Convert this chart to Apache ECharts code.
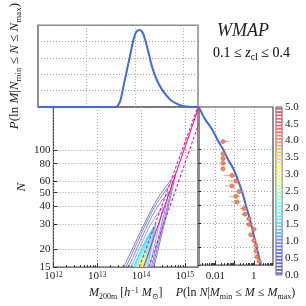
<!DOCTYPE html>
<html><head><meta charset="utf-8">
<script src="https://cdn.jsdelivr.net/npm/echarts@6/dist/echarts.min.js"></script>
<style>html,body{margin:0;padding:0;background:#fff}#c{width:306px;height:306px}</style>
</head><body><div id="c"></div>
<script>
// ---------- data ----------
// top panel: P(ln M | Nmin<=N<=Nmax) vs log10 M
const topLogM = [12.0, 13.5, 13.61, 13.65, 13.70, 13.765, 13.83, 13.896, 13.96, 14.02, 14.09, 14.157, 14.22, 14.29, 14.353, 14.45, 14.55, 14.65, 14.745, 14.88, 15.0, 15.3];
const topP    = [0, 0, 0, 0.02, 0.08, 0.26, 0.44, 0.62, 0.80, 0.91, 0.94, 0.91, 0.80, 0.64, 0.49, 0.33, 0.22, 0.14, 0.08, 0.035, 0.01, 0];
// axis ticks
const mTicks = [12, 13, 14, 15];
const nTicks = [15, 20, 30, 40, 50, 60, 80, 100];
const pTicks = [0.01, 1];
const cbarTicks = [0, 0.5, 1, 1.5, 2, 2.5, 3, 3.5, 4, 4.5, 5];
// contours of the joint distribution (log10 M, N)
const contourLevels = [0.1, 0.3, 0.6, 1.0, 1.5, 1.8, 2.1, 2.5, 2.9, 3.3];
const contourLogM = [
 [13.608,14.108,14.392,14.784,14.672,14.294],
 [13.657,14.110,14.369,14.725,14.620,14.265],
 [13.716,14.102,14.322,14.631,14.541,14.235],
 [13.775,14.078,14.252,14.496,14.427,14.196],
 [13.824,14.042,14.169,14.343,14.301,14.157],
 [13.853,14.024,14.122,14.259,14.231,14.137],
 [13.882,14.009,14.082,14.182,14.169,14.118],
 [13.902,13.991,14.043,14.114,14.112,14.098],
 [13.922,13.978,14.010,14.055,14.062,14.078],
 [13.941,13.969,13.982,14.004,14.016,14.049]];
const contourN = [
 [15,31.7,46.2,67.2,46.2,15],
 [15,30.1,42.6,60.3,42.6,15],
 [15,27.6,37.5,50.8,37.5,15],
 [15,24.4,31.1,39.7,31.1,15],
 [15,21.2,25.3,30.1,25.3,15],
 [15,19.7,22.5,25.8,22.5,15],
 [15,18.3,20.3,22.4,20.3,15],
 [15,17.2,18.5,19.8,18.5,15],
 [15,16.3,17.0,17.8,17.0,15],
 [15,15.6,15.9,16.2,15.9,15]];
// mass-richness relation and its scatter
const relLogM = [14.059, 15.318], relN = [15, 200];
const relLoLogM = [13.961, 15.275], relLoN = [15, 192];
const relHiLogM = [14.176, 15.392], relHiN = [15, 178];
// right panel: P(ln N | Mmin<=M<=Mmax)
const curveP = [0.00142, 0.00291, 0.00673, 0.0138, 0.0251, 0.0457, 0.0832, 0.151, 0.244, 0.394, 0.637, 1.159, 1.66, 2.377];
const curveN = [198, 164, 139, 115, 100, 84.7, 73.6, 60.3, 50.0, 39.7, 31.5, 22.4, 18.3, 15.0];
// measured points with horizontal errors
const ptN  = [113.6, 92.9, 86.0, 79.6, 72.6, 65.2, 59.3, 54.9, 50.0, 46.3, 42.2, 37.9, 34.5, 32.0, 29.2, 27.0, 24.6, 22.4, 20.7, 18.9, 17.2, 16.0];
const ptP  = [0.0251, 0.0251, 0.0251, 0.0251, 0.0251, 0.0738, 0.119, 0.0738, 0.1706, 0.119, 0.134, 0.3105, 0.35, 0.5649, 0.5649, 1.028, 0.7178, 1.028, 1.306, 1.306, 1.472, 1.871];
const ptLo = [null, null, null, null, null, 0.0283, 0.0515, 0.0319, 0.0738, 0.0515, 0.0655, 0.1923, 0.2168, 0.3945, 0.3945, 0.7178, 0.5012, 0.762, 1.028, 1.028, 1.159, 1.472];
const ptHi = [0.0515, null, null, null, null, 0.1057, 0.1923, 0.1057, 0.2754, 0.1923, 0.2168, 0.4446, 0.5012, 0.762, 0.762, 1.306, 0.968, 1.306, 1.66, 1.66, 1.871, 2.377];

// ---------- helpers ----------
const FONT = "'Liberation Serif','DejaVu Serif',serif";
const L = Math.log10;
function jet(t, a) {
  const c = x => Math.max(0, Math.min(1, x));
  const r = c(1.5 - Math.abs(4*t - 3)), g = c(1.5 - Math.abs(4*t - 2)), b = c(1.5 - Math.abs(4*t - 1));
  const m = v => Math.round(255*(1 - a) + 255*v*a);
  return 'rgb(' + m(r) + ',' + m(g) + ',' + m(b) + ')';
}
function makeRich(size) {
  const sub = Math.round(size*0.68);
  return {
    i: {fontFamily: FONT, fontStyle: 'italic', fontSize: size, color: '#222', lineHeight: size + 2, verticalAlign: 'top', padding: [0,0,2,0]},
    r: {fontFamily: FONT, fontSize: size, color: '#222', lineHeight: size + 2, verticalAlign: 'top', padding: [0,0,2,0]},
    s: {fontFamily: FONT, fontSize: sub, color: '#222', lineHeight: sub + 1, verticalAlign: 'bottom'},
    p: {fontFamily: FONT, fontSize: sub, color: '#222', lineHeight: sub, verticalAlign: 'top'}
  };
}
const minorM = []; for (let n = 12; n < 15; n++) for (let k = 2; k < 10; k++) minorM.push(n + L(k));
const minorP = []; for (let n = -3; n < 1; n++) for (let k = 2; k < 10; k++) { const v = n + L(k); if (v > -2.9 && v < 1) minorP.push(v); }
const cbarLevels = []; for (let i = 0; i < 50; i++) cbarLevels.push(0.05 + 0.1*i);

const gridLine = {show: true, lineStyle: {type: [1, 2], color: '#9a9a9a', width: 0.9}};
const tickStyle = {color: '#333', width: 1};
const lblStyle = {fontFamily: FONT, fontSize: 11, color: '#222'};

const series = [];
// top curve
series.push({type: 'line', xAxisIndex: 0, yAxisIndex: 0, data: topLogM.map((m, i) => [m, topP[i]]),
  smooth: 0.3, symbol: 'none', clip: false, lineStyle: {color: '#4169e1', width: 2}, z: 5});
// contours
contourLevels.forEach((lv, k) => {
  const s = {type: 'line', xAxisIndex: 1, yAxisIndex: 1, smooth: 0.35, symbol: 'none', z: 2 + k*0.01,
    data: contourLogM[k].map((m, i) => [m, L(contourN[k][i])]),
    lineStyle: {color: jet(lv/5, 0.55), width: 0.9}};
  if (lv >= 1.5) s.areaStyle = {origin: 'start', color: jet(lv/5, 0.65), opacity: 1};
  series.push(s);
});
// relation lines
series.push({type: 'line', xAxisIndex: 1, yAxisIndex: 1, symbol: 'none', z: 4,
  data: relLogM.map((m, i) => [m, L(relN[i])]), lineStyle: {color: '#ff1493', width: 1.1}});
series.push({type: 'line', xAxisIndex: 1, yAxisIndex: 1, symbol: 'none', z: 4,
  data: relLoLogM.map((m, i) => [m, L(relLoN[i])]), lineStyle: {color: '#ff1493', width: 1.1, type: [3, 2]}});
series.push({type: 'line', xAxisIndex: 1, yAxisIndex: 1, symbol: 'none', z: 4,
  data: relHiLogM.map((m, i) => [m, L(relHiN[i])]), lineStyle: {color: '#ff1493', width: 1.1, type: [3, 2]}});
// right curve
series.push({type: 'line', xAxisIndex: 3, yAxisIndex: 2, symbol: 'none', smooth: 0.3, z: 5,
  data: curveP.map((p, i) => [L(p), L(curveN[i])]), lineStyle: {color: '#4169e1', width: 2}});
// error bars
const errData = [];
ptN.forEach((n, i) => { if (ptLo[i] == null && ptHi[i] == null) return;
  errData.push([L(ptLo[i] == null ? ptP[i] : ptLo[i]), L(ptHi[i] == null ? ptP[i] : ptHi[i]), L(n)]); });
series.push({type: 'custom', xAxisIndex: 3, yAxisIndex: 2, z: 6, encode: {x: [0, 1], y: 2}, data: errData,
  renderItem: (params, api) => {
    const a = api.coord([api.value(0), api.value(2)]), b = api.coord([api.value(1), api.value(2)]);
    return {type: 'line', shape: {x1: a[0], y1: a[1], x2: b[0], y2: b[1]}, style: {stroke: '#f6a78e', lineWidth: 1}};
  }});
// points
series.push({type: 'scatter', xAxisIndex: 3, yAxisIndex: 2, z: 7, symbolSize: 4,
  data: ptP.map((p, i) => [L(p), L(ptN[i])]),
  itemStyle: {color: '#f08a64', borderColor: '#d5603a', borderWidth: 0.7, opacity: 1}});
// colorbar
series.push({type: 'scatter', xAxisIndex: 5, yAxisIndex: 3, symbol: 'rect', symbolSize: [6, 1.8], z: 3,
  data: cbarLevels.map(v => [0.5, v]),
  itemStyle: {color: p => jet(p.value[1]/5, 0.6), opacity: 1}});

const nT = nTicks.map(L);
const option = {
  animation: false,
  backgroundColor: '#fff',
  grid: [
    {left: 30, top: 15, width: 168, height: 92, show: true, borderColor: '#8a8a8a', borderWidth: 1.5},
    {left: 30, top: 107, width: 168, height: 168, show: true, borderColor: '#444', borderWidth: 1.2},
    {left: 198, top: 107, width: 75, height: 168, show: true, borderColor: '#444', borderWidth: 1.2},
    {left: 276, top: 107, width: 6, height: 168, show: true, borderColor: '#666', borderWidth: 1}
  ],
  xAxis: [
    {gridIndex: 0, type: 'value', min: 12, max: 15.3, interval: 1, axisLine: {show: false},
      axisTick: {show: false}, axisLabel: {show: false}, splitLine: gridLine},
    {gridIndex: 1, type: 'value', min: 12, max: 15.3, interval: 1, axisLine: {show: false},
      axisTick: {inside: true, length: 4, lineStyle: tickStyle},
      axisLabel: {margin: 4, formatter: v => '{a|10}{b|' + v + '}',
        rich: {a: {fontFamily: FONT, fontSize: 11, color: '#222', lineHeight: 13, verticalAlign: 'top'},
               b: {fontFamily: FONT, fontSize: 7.5, color: '#222', lineHeight: 8, verticalAlign: 'top'}}},
      splitLine: gridLine,
      name: '{i|M}{s|200m}{r| [}{i|h}{p|−1}{r| }{i|M}{s|⊙}{r|]}', nameLocation: 'middle', nameGap: 15,
      nameTextStyle: {rich: makeRich(12)}},
    {gridIndex: 1, type: 'value', min: 12, max: 15.3, position: 'bottom', axisLine: {show: false},
      axisLabel: {show: false}, splitLine: {show: false},
      axisTick: {inside: true, length: 2, customValues: minorM, lineStyle: tickStyle}},
    {gridIndex: 2, type: 'value', min: -2.9, max: 1, axisLine: {show: false},
      axisTick: {inside: true, length: 4, customValues: [-2, -1, 0], lineStyle: tickStyle},
      axisLabel: Object.assign({margin: 6, customValues: pTicks.map(L), formatter: v => String(Number(Math.pow(10, v).toPrecision(1)))}, lblStyle),
      splitLine: gridLine,
      name: '{i|P}{r|(ln }{i|N}{r||}{i|M}{s|min}{r| ≤ }{i|M}{r| ≤ }{i|M}{s|max}{r|)}', nameLocation: 'middle', nameGap: 10,
      nameTextStyle: {rich: makeRich(12)}},
    {gridIndex: 2, type: 'value', min: -2.9, max: 1, position: 'bottom', axisLine: {show: false},
      axisLabel: {show: false}, splitLine: {show: false},
      axisTick: {inside: true, length: 2, customValues: minorP, lineStyle: tickStyle}},
    {gridIndex: 3, type: 'value', min: 0, max: 1, show: false}
  ],
  yAxis: [
    {gridIndex: 0, type: 'value', min: 0, max: 1, interval: 0.2, axisLine: {show: true, onZero: false, lineStyle: {color: '#8a8a8a', width: 1.5}},
      axisTick: {show: false}, axisLabel: {show: false}, splitLine: gridLine,
      name: '{i|P}{r|(ln }{i|M}{r||}{i|N}{s|min}{r| ≤ }{i|N}{r| ≤ }{i|N}{s|max}{r|)}', nameLocation: 'middle', nameRotate: 90, nameGap: 15,
      nameTextStyle: {rich: makeRich(13)}},
    {gridIndex: 1, type: 'value', min: L(15), max: L(200), axisLine: {show: false},
      axisTick: {inside: true, length: 4, customValues: nT, lineStyle: tickStyle},
      axisLabel: Object.assign({margin: 3, customValues: nT, formatter: v => String(Math.round(Math.pow(10, v)))}, lblStyle),
      splitLine: gridLine,
      name: '{i|N}', nameLocation: 'middle', nameRotate: 90, nameGap: 16, nameTextStyle: {rich: makeRich(13)}},
    {gridIndex: 2, type: 'value', min: L(15), max: L(200),
      axisLine: {show: true, onZero: false, lineStyle: {color: '#8c8c8c', width: 3}},
      axisTick: {inside: true, length: 3, customValues: nT, lineStyle: tickStyle},
      axisLabel: {show: false}, splitLine: gridLine},
    {gridIndex: 3, type: 'value', min: 0, max: 5, interval: 0.5, position: 'right', axisLine: {show: false},
      axisTick: {show: false}, axisLabel: Object.assign({margin: 3, formatter: v => v.toFixed(1)}, lblStyle), splitLine: {show: false}}
  ],
  graphic: [
    {type: 'text', left: 217, top: 22, style: {text: 'WMAP', font: 'italic 18px ' + FONT, fill: '#222'}},
    {type: 'text', left: 213, top: 46, style: {text: '{r|0.1 ≤ }{i|z}{s|cl}{r| ≤ 0.4}', rich: makeRich(14)}}
  ],
  series: series
};
const chart = echarts.init(document.getElementById('c'));
chart.setOption(option);
</script></body></html>
